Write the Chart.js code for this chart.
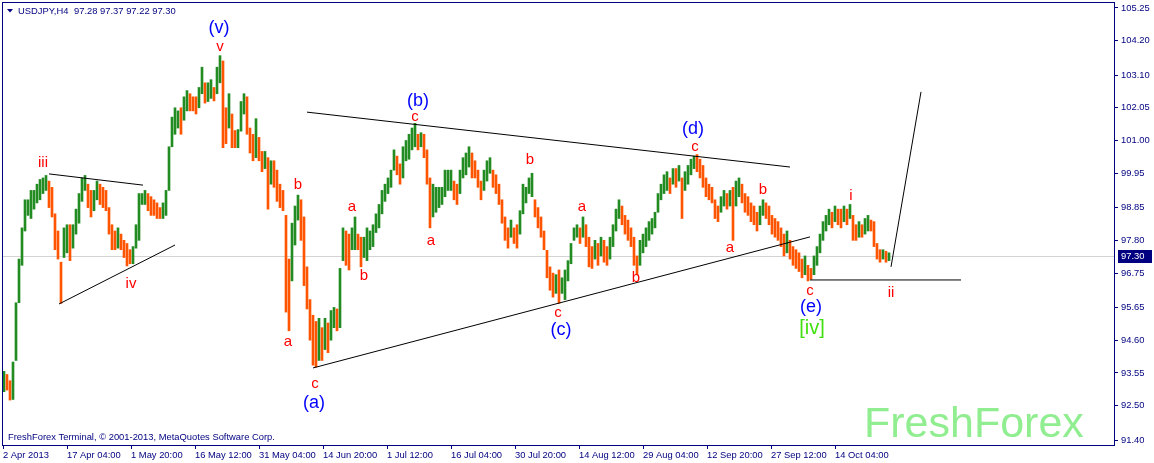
<!DOCTYPE html>
<html><head><meta charset="utf-8">
<script src="https://cdn.jsdelivr.net/npm/chart.js@4.4.0/dist/chart.umd.min.js"></script>
<style>html,body{margin:0;padding:0;background:#fff;overflow:hidden}#wrap{width:1154px;height:463px;position:relative}</style>
</head><body><div id="wrap"><canvas id="c" width="1154" height="463"></canvas></div>
<script>
const symbolName = 'USDJPY,H4';
const symbolQuote = '97.28 97.37 97.22 97.30';
const copyright = 'FreshForex Terminal, \u00A9 2001-2013, MetaQuotes Software Corp.';
const watermark = 'FreshForex';
const lastPrice = 97.30;
const barsPerCandle = 3; // each drawn candle = three H4 bars

// candle lows / highs (one candle per 12 hours, from 2 Apr 2013)
const lows = [
 92.95,93.00,92.68,92.70,93.95,95.80,97.00,98.10,98.60,98.50,
 98.80,99.00,99.10,99.30,99.40,98.85,98.55,97.50,97.20,95.78,
 97.25,97.40,97.15,97.55,98.00,98.35,99.05,99.40,98.85,98.55,
 98.75,99.10,98.95,98.85,98.75,98.00,97.50,97.50,97.55,97.50,
 97.25,96.98,97.05,97.05,97.55,97.80,98.95,98.95,98.75,98.60,
 98.60,98.50,98.50,98.50,98.60,99.40,100.80,101.20,101.40,101.20,
 101.65,101.95,101.95,101.95,101.85,102.05,102.50,102.20,102.25,102.35,
 102.27,102.50,102.85,100.77,100.90,101.40,100.77,100.77,100.77,101.30,
 101.85,101.20,100.60,100.35,100.45,100.35,100.00,100.10,98.80,99.60,
 99.50,99.05,98.85,98.75,95.50,94.90,96.50,97.65,98.45,97.80,
 96.35,95.60,94.60,93.80,93.74,93.95,93.95,94.30,94.20,94.60,
 95.00,94.90,95.00,97.15,97.00,96.85,97.50,97.50,97.50,96.95,
 97.25,97.15,97.50,97.60,98.05,98.20,98.65,99.05,99.30,99.50,
 100.05,99.90,99.60,99.80,100.35,100.40,100.70,100.80,100.70,100.80,
 100.45,99.60,98.20,98.55,98.70,98.85,98.95,99.20,99.40,99.40,
 99.10,98.95,99.30,99.80,99.90,100.15,99.80,99.80,99.50,99.10,
 99.40,99.70,99.95,99.50,99.30,98.95,98.35,97.80,97.55,97.90,
 97.70,97.55,98.00,98.65,99.00,99.30,99.20,98.55,98.20,97.90,
 97.50,96.60,96.20,95.98,96.10,95.78,96.10,95.90,96.50,97.05,
 97.80,97.90,97.70,97.90,97.60,96.95,96.90,97.20,97.00,97.30,
 97.10,97.00,97.20,97.60,98.10,98.50,98.30,98.00,97.80,97.60,
 97.00,96.70,97.00,97.40,97.60,97.80,98.00,98.20,98.70,99.10,
 99.30,99.40,99.30,99.60,99.50,99.70,98.50,99.40,99.60,99.90,
 100.10,100.00,99.80,99.50,99.20,99.10,99.00,98.50,98.40,98.70,
 98.90,98.80,98.90,97.80,98.90,99.20,99.00,98.70,98.60,98.40,
 98.30,98.10,98.30,98.60,98.50,98.30,98.00,97.90,97.80,97.60,
 97.30,97.40,97.20,97.00,96.90,96.80,96.60,96.70,96.50,96.55,
 96.70,97.00,97.40,97.80,98.10,98.30,98.20,98.40,98.30,98.20,
 98.40,98.30,98.50,97.80,97.80,97.90,97.90,98.00,98.10,98.10,
 97.60,97.20,97.10,97.20,97.10,97.15
];
const highs = [
 93.60,93.50,93.30,93.90,95.80,97.20,98.20,99.10,99.10,99.40,
 99.40,99.60,99.75,99.80,99.88,99.70,99.50,98.65,98.10,97.10,
 98.20,98.30,98.30,98.30,98.80,99.30,99.80,99.88,99.60,99.40,
 99.40,99.70,99.60,99.50,99.40,98.85,98.30,98.10,98.20,98.00,
 97.80,97.70,97.50,97.60,98.30,99.30,99.30,99.40,99.30,99.20,
 99.10,99.00,98.85,99.00,99.40,100.80,101.75,102.05,101.95,102.05,
 102.40,102.60,102.50,102.40,102.40,102.70,103.35,102.85,102.85,102.95,
 102.70,103.35,103.72,103.55,102.05,102.50,101.85,101.32,101.35,102.25,
 102.50,102.40,101.40,101.20,101.70,101.10,100.65,100.65,100.45,100.35,
 100.35,100.05,99.60,99.40,98.60,97.20,98.35,98.90,99.25,99.10,
 98.55,96.95,95.90,95.40,95.20,95.30,95.00,95.30,95.15,95.55,
 95.65,95.60,96.90,98.20,98.10,98.00,98.20,98.55,98.00,97.90,
 97.90,98.20,98.10,98.30,98.65,98.95,99.40,99.60,99.80,100.05,
 100.70,100.50,100.25,100.80,101.00,101.20,101.40,101.55,101.20,101.25,
 101.20,100.70,99.80,99.60,99.50,99.50,99.50,100.05,100.05,100.05,
 99.70,99.60,100.05,100.45,100.60,100.80,100.60,100.35,100.05,99.70,
 100.05,100.35,100.45,100.05,99.90,99.60,99.10,98.55,98.20,98.45,
 98.20,98.30,98.75,99.60,99.50,99.80,99.95,99.10,98.85,98.55,
 98.10,97.48,96.95,96.75,96.70,96.85,96.60,96.85,97.15,97.70,
 98.20,98.30,98.20,98.55,98.30,97.90,97.60,97.80,97.70,97.90,
 97.80,97.60,97.90,98.30,98.80,99.10,98.90,98.60,98.45,98.20,
 97.90,97.30,97.80,98.00,98.20,98.40,98.50,98.70,99.30,99.60,
 99.90,100.00,99.80,100.10,100.10,100.20,99.80,100.00,100.20,100.40,
 100.50,100.55,100.40,100.20,99.80,99.60,99.50,99.10,98.90,99.20,
 99.40,99.30,99.40,99.50,99.70,99.80,99.60,99.30,99.20,99.00,
 98.90,98.70,98.90,99.10,99.00,98.90,98.60,98.50,98.40,98.20,
 98.00,98.10,97.80,97.60,97.50,97.40,97.20,97.30,97.00,96.90,
 97.30,97.60,98.00,98.40,98.60,98.80,98.70,98.90,98.80,98.80,
 98.90,98.80,98.95,98.60,98.30,98.40,98.30,98.50,98.60,98.45,
 98.40,97.70,97.50,97.50,97.45,97.40
];

// axis ticks
const yTickValues = [105.25,104.20,103.10,102.05,101.00,99.95,98.85,97.80,96.75,95.65,94.60,93.55,92.50,91.40];
const xTickBars = [0,64,128,192,256,320,384,448,512,576,640,704,768,832];
const xTickLabels = ['2 Apr 2013','17 Apr 04:00','1 May 20:00','16 May 12:00','31 May 04:00','14 Jun 20:00','1 Jul 12:00','16 Jul 04:00','30 Jul 20:00','14 Aug 12:00','29 Aug 04:00','12 Sep 20:00','27 Sep 12:00','14 Oct 04:00'];

// trend lines: [bar1, price1, bar2, price2]
const trendLines = [
 [46, 99.93, 140, 99.57],
 [56, 95.76, 172, 97.65],
 [304, 101.91, 787, 100.15],
 [310, 93.71, 807, 97.91],
 [807, 96.53, 958, 96.53],
 [888, 96.95, 918, 102.56]
];

// wave labels
const waveText  = ['iii','iv','v','(v)','b','a','c','(a)','a','b','c','(b)','a','b','c','(c)','a','b','c','(d)','a','b','c','(e)','[iv]','i','ii'];
const waveBar   = [40,128,217,216,295,285,312,311,349,361,412,415,428,527,555,558,579,633,692,690,727,760,807,808,809,848,888];
const wavePrice = [100.28,96.40,104.00,104.61,99.57,94.54,93.20,92.59,98.87,96.66,101.75,102.27,97.78,100.38,95.47,94.93,98.87,96.59,100.79,101.37,97.55,99.41,96.18,95.66,94.96,99.22,96.11];
const waveKind  = ['m','m','m','M','m','m','m','M','m','m','m','M','m','m','m','M','m','m','m','M','m','m','m','M','P','m','m'];

const NAVY = '#000080';
const UP = '#228B22';
const DOWN = '#FF5500';
const FONT = "'Liberation Sans', Arial, sans-serif";
const AXIS_FONT_SIZE = 9.4;

const candles = lows.map((l, i) => ({ x: i * barsPerCandle + 1, y: [l, highs[i]] }));
const candleColors = lows.map((l, i) => {
  const mid = (l + highs[i]) / 2;
  const prev = i > 0 ? (lows[i - 1] + highs[i - 1]) / 2 : mid;
  return mid >= prev ? UP : DOWN;
});

const lineSets = trendLines.map(t => ({
  type: 'line',
  data: [{ x: t[0], y: t[1] }, { x: t[2], y: t[3] }],
  borderColor: '#000000', borderWidth: 1, pointRadius: 0, fill: false, order: 1, tension: 0
}));

const waveStyle = {
  m: { font: '15px ' + FONT, color: '#FF0000' },
  M: { font: '18px ' + FONT, color: '#0000FF' },
  P: { font: '20px ' + FONT, color: '#40E010' }
};

const mt4Plugin = {
  id: 'mt4',
  beforeDatasetsDraw(chart) {
    const { ctx, chartArea: a, scales: { y } } = chart;
    const py = Math.round(y.getPixelForValue(lastPrice)) + 0.5;
    ctx.save();
    ctx.strokeStyle = '#D3D3D3'; ctx.lineWidth = 1;
    ctx.beginPath(); ctx.moveTo(a.left, py); ctx.lineTo(a.right, py); ctx.stroke();
    ctx.restore();
  },
  afterDatasetsDraw(chart) {
    const { ctx, scales: { x, y } } = chart;
    ctx.save();
    ctx.textAlign = 'center'; ctx.textBaseline = 'middle';
    waveText.forEach((t, i) => {
      const s = waveStyle[waveKind[i]];
      ctx.font = s.font; ctx.fillStyle = s.color;
      ctx.fillText(t, x.getPixelForValue(waveBar[i]), y.getPixelForValue(wavePrice[i]));
    });
    ctx.restore();
  },
  afterDraw(chart) {
    const { ctx, chartArea: a, scales: { y } } = chart;
    ctx.save();
    // frame
    ctx.strokeStyle = NAVY; ctx.lineWidth = 1;
    ctx.strokeRect(a.left + 0.5, a.top + 0.5, a.right - a.left, a.bottom - a.top);
    // title
    ctx.fillStyle = NAVY;
    ctx.beginPath(); ctx.moveTo(7, 9); ctx.lineTo(13, 9); ctx.lineTo(10, 12.5); ctx.closePath(); ctx.fill();
    ctx.font = AXIS_FONT_SIZE + 'px ' + FONT; ctx.textBaseline = 'middle'; ctx.textAlign = 'left';
    ctx.fillText(symbolName, 18, 11);
    ctx.fillText(symbolQuote, 74, 11);
    ctx.fillText(copyright, 8, 437);
    // watermark
    ctx.fillStyle = '#90EE90';
    ctx.font = '43px ' + FONT; ctx.textBaseline = 'alphabetic';
    ctx.fillText(watermark, 864, 437);
    // current price box
    const py = Math.round(y.getPixelForValue(lastPrice));
    ctx.fillStyle = NAVY;
    ctx.fillRect(a.right + 4, py - 6, 34, 13);
    ctx.fillStyle = '#FFFFFF';
    ctx.font = AXIS_FONT_SIZE + 'px ' + FONT; ctx.textBaseline = 'middle';
    ctx.fillText(lastPrice.toFixed(2), a.right + 7, py + 0.5);
    ctx.restore();
  }
};

new Chart(document.getElementById('c'), {
  type: 'bar',
  data: {
    datasets: [{
      type: 'bar', data: candles, backgroundColor: candleColors, borderWidth: 0,
      barThickness: 2, grouped: false, order: 2
    }].concat(lineSets)
  },
  options: {
    responsive: false, animation: false, events: [],
    layout: { padding: { left: 2, top: 2, right: 0, bottom: 0 } },
    plugins: { legend: { display: false }, tooltip: { enabled: false } },
    scales: {
      x: {
        type: 'linear', min: -1, max: 1111, offset: false,
        afterBuildTicks: s => { s.ticks = xTickBars.map(v => ({ value: v })); },
        afterFit: s => { s.height = 18; s.paddingLeft = 0; s.paddingRight = 0; },
        grid: { offset: false, drawOnChartArea: false, tickLength: 4, color: NAVY, tickColor: NAVY },
        border: { display: false },
        ticks: {
          autoSkip: false, maxRotation: 0, align: 'start', padding: 1, color: NAVY,
          font: { size: AXIS_FONT_SIZE, family: FONT },
          callback: (v, i) => xTickLabels[i]
        }
      },
      y: {
        type: 'linear', position: 'right', min: 91.24, max: 105.44,
        afterBuildTicks: s => { s.ticks = yTickValues.map(v => ({ value: v })); },
        afterFit: s => { s.width = 40; s.paddingTop = 0; s.paddingBottom = 0; },
        grid: { drawOnChartArea: false, tickLength: 4, color: NAVY, tickColor: NAVY },
        border: { display: false },
        ticks: {
          padding: 3, color: NAVY, font: { size: AXIS_FONT_SIZE, family: FONT },
          callback: v => Number(v).toFixed(2)
        }
      }
    }
  },
  plugins: [mt4Plugin]
});
</script>
</body></html>
